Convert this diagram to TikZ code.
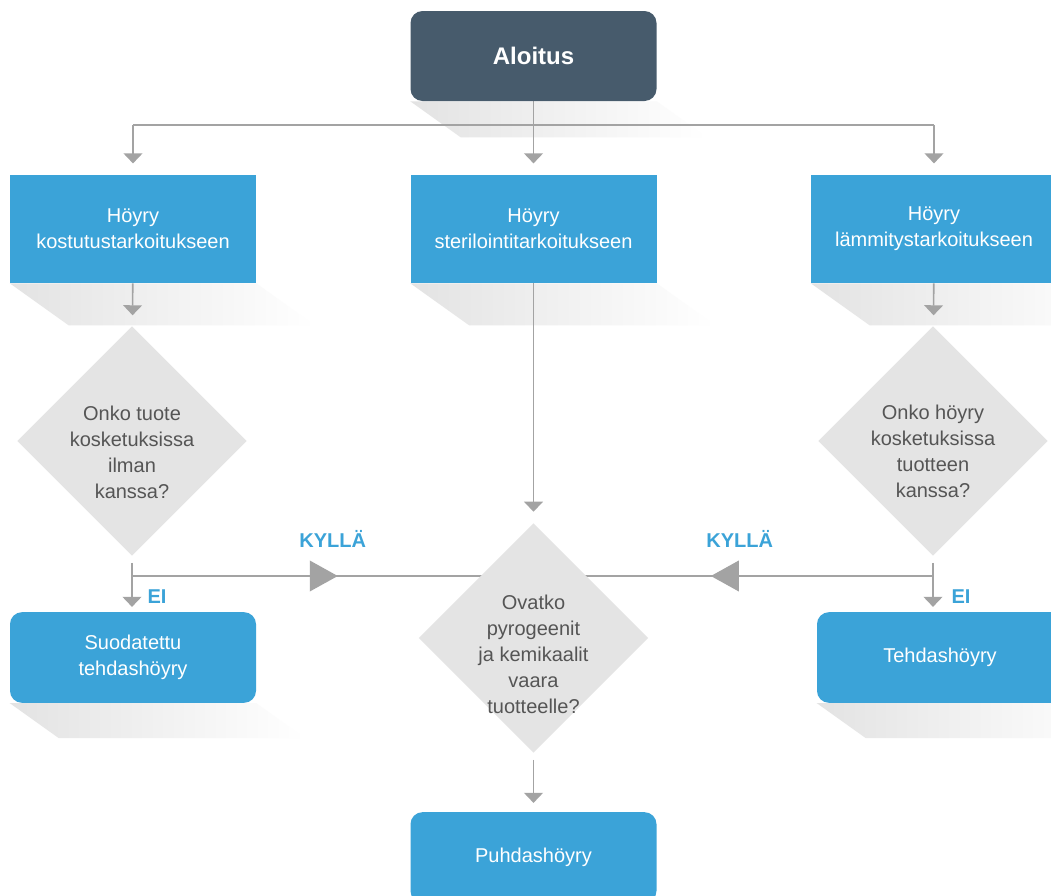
\documentclass[tikz,border=0pt]{standalone}
\usepackage{fontspec}
\setmainfont{Liberation Sans}
\usepackage{tikz}
\usetikzlibrary{shapes.geometric, arrows.meta}
\usetikzlibrary{positioning, backgrounds, calc}
\usetikzlibrary{decorations.markings}
\pgfdeclarelayer{lines}
\pgfsetlayers{background,lines,main}

\definecolor{steamblue}{HTML}{3BA3D8}
\definecolor{slate}{HTML}{475B6C}
\definecolor{qgray}{HTML}{E4E4E4}
\definecolor{qtext}{HTML}{555555}
\definecolor{linegray}{HTML}{A3A3A3}

\tikzstyle{arrow} = [line width=1.2pt, color=linegray, -{Triangle[length=7.5pt,width=14pt]}, shorten >=8.5pt]
\tikzstyle{plainline} = [line width=1.2pt, color=linegray]
\tikzset{
  startbox/.style={rectangle, rounded corners=9pt, fill=slate, text=white, font=\bfseries\fontsize{18}{22}\selectfont, minimum width=184.5pt, minimum height=67.5pt},
  choice/.style={rectangle, fill=steamblue, text=white, align=center, font=\fontsize{15}{19.5}\selectfont, minimum width=184.5pt, minimum height=81pt},
  result/.style={choice, rounded corners=9pt, minimum height=68pt},
  question/.style={diamond, fill=qgray, minimum width=172pt, minimum height=172pt, inner sep=0pt},
  qlabel/.style={text=qtext, align=center, font=\fontsize{15}{19.5}\selectfont},
  answer/.style={text=steamblue, font=\bfseries\fontsize{15}{18}\selectfont},
  yesmark/.style={postaction={decorate}, decoration={markings, mark=at position #1 with {\arrow{Triangle[length=21pt,width=23pt]}}}},
  longshadow/.style={left color=black!11, right color=white, draw=none}
}

\begin{document}
\begin{tikzpicture}[x=0.75pt, y=-0.75pt]
    \useasboundingbox (0,0) rectangle (1051,896);
    % nodes
    \node (start) [startbox] at (533.5,56) {Aloitus};
    \node (b1) [choice] at (133,229) {Höyry\\kostutustarkoitukseen};
    \node (b2) [choice] at (533.5,229) {Höyry\\sterilointitarkoitukseen};
    \node (b3) [choice] at (934,229) {Höyry\\lämmitystarkoitukseen};
    \node (d1) [question, label={[qlabel, yshift=-8.25pt]center:Onko tuote\\kosketuksissa\\ilman\\kanssa?}] at (132,441) {};
    \node (d2) [question, label={[qlabel, yshift=-8pt]center:Onko höyry\\kosketuksissa\\tuotteen\\kanssa?}] at (933,441) {};
    \node (d3) [question, label={[qlabel, yshift=-12pt]center:Ovatko\\pyrogeenit\\ja kemikaalit\\vaara\\tuotteelle?}] at (533.5,638) {};
    \node (e1) [result] at (133,657.5) {Suodatettu\\tehdashöyry};
    \node (e2) [result] at (940,657.5) {Tehdashöyry};
    \node (e3) [result] at (533.5,857.5) {Puhdashöyry};
    \coordinate (top) at (533.5,125);
    \coordinate (jl) at (132,576);
    \coordinate (jr) at (933,576);
    % shadows
    \begin{scope}[on background layer]
        \fill[white] (0,0) rectangle (1051,896);
        \foreach \n/\d in {start/36, b1/42, b2/42, b3/42, e1/35, e2/35, e3/35}
            \shade[longshadow] (\n.south west) -- ++(1.4*\d,\d) -- ++(246,0) -- (\n.south east) -- cycle;
    \end{scope}
    % arrows
    \begin{pgfonlayer}{lines}
    \draw [arrow] (start) -- (b2);
    \draw [plainline] (b1 |- top) -- (b3 |- top);
    \draw [arrow] (b1 |- top) -- (b1);
    \draw [arrow] (b3 |- top) -- (b3);
    \draw [arrow] (b1) -- (d1);
    \draw [arrow] (b2) -- (d3);
    \draw [arrow] (b3) -- (d2);
    \draw [plainline, yesmark=0.5125] (jl) -- (jl -| d3) node[answer, pos=0.5, yshift=27.75pt] {KYLLÄ};
    \draw [plainline, yesmark=0.556] (jr) -- (jr -| d3) node[answer, pos=0.484, yshift=27.75pt] {KYLLÄ};
    \draw [arrow, shorten <=5.25pt, shorten >=3.75pt] (d1.south) -- (d1.south |- e1.north) node[answer, pos=0.72, xshift=18.75pt] {EI};
    \draw [arrow, shorten <=5.25pt, shorten >=3.75pt] (d2.south) -- (d2.south |- e2.north) node[answer, pos=0.72, xshift=21pt] {EI};
    \draw [arrow, shorten <=5.25pt, shorten >=6.75pt] (d3.south) -- (d3.south |- e3.north);
    \end{pgfonlayer}
\end{tikzpicture}
\end{document}
